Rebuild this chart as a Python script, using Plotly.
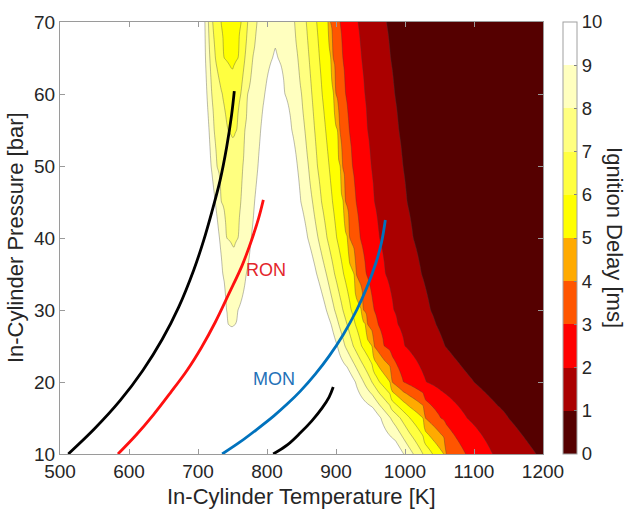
import numpy as np
import plotly.graph_objects as go

# ---------------- contour data ----------------
# For each pressure row [bar]: temperatures [K] and ignition delay [ms] values
P_rows = [10, 15, 20, 25, 28, 30, 35, 40, 45, 50, 55, 60, 65, 70]

T_10 = [500, 880, 986, 998, 1012, 1026, 1040, 1056, 1059, 1088, 1127, 1190, 1200]
D_10 = [12, 11, 9.9, 9, 8, 7, 6, 5, 4, 3, 2, 1, 0.85]

T_15 = [500, 850, 953, 965, 979, 993, 1007, 1026, 1029, 1052, 1090, 1150, 1185, 1200]
D_15 = [12, 11, 9.9, 9, 8, 7, 6, 5, 4, 3, 2, 1, 0.5, 0.45]

T_20 = [500, 820, 916, 928, 940, 952, 963, 978, 981, 998, 1031, 1100, 1135, 1200]
D_20 = [12, 11, 9.9, 9, 8, 7, 6, 5, 4, 3, 2, 1, 0.5, 0.35]

T_25 = [500, 800, 890, 902, 913, 925, 937, 952, 955, 970, 1000, 1058, 1093, 1200]
D_25 = [12, 11, 9.9, 9, 8, 7, 6, 5, 4, 3, 2, 1, 0.5, 0.3]

T_28 = [500, 739, 744, 749, 754, 830, 881, 893, 904, 916, 928, 943, 946, 961, 990, 1045, 1080, 1200]
D_28 = [12, 9.6, 9, 8.7, 9, 10.5, 9.9, 9, 8, 7, 6, 5, 4, 3, 2, 1, 0.5, 0.3]

T_30 = [500, 736, 741, 751, 758, 830, 874, 886, 898, 910, 922, 937, 940, 955, 984, 1037, 1072, 1200]
D_30 = [12, 9.6, 9, 8.55, 9, 10.5, 9.9, 9, 8, 7, 6, 5, 4, 3, 2, 1, 0.5, 0.3]

T_35 = [500, 731, 736, 751, 770, 820, 860, 872, 886, 898, 911, 926, 929, 944, 972, 1024, 1059, 1200]
D_35 = [12, 9.6, 9, 8.25, 9, 10.5, 9.9, 9, 8, 7, 6, 5, 4, 3, 2, 1, 0.5, 0.3]

T_40 = [500, 726, 731, 741, 752, 758, 777, 820, 847, 859, 874, 887, 901, 917, 920, 935, 963, 1012, 1047, 1200]
D_40 = [12, 9.6, 9, 8, 7.9, 8, 9, 10.5, 9.9, 9, 8, 7, 6, 5, 4, 3, 2, 1, 0.5, 0.3]

T_45 = [500, 720, 725, 734, 752, 762, 782, 815, 837, 849, 866, 879, 895, 911, 914, 929, 956, 1003, 1038, 1200]
D_45 = [12, 9.6, 9, 8, 7.6, 8, 9, 10.5, 9.9, 9, 8, 7, 6, 5, 4, 3, 2, 1, 0.5, 0.3]

T_50 = [500, 714, 719, 727, 751, 765, 787, 815, 832, 844, 860, 873, 890, 906, 909, 924, 951, 997, 1032, 1200]
D_50 = [12, 9.6, 9, 8, 7.3, 8, 9, 10.5, 9.9, 9, 8, 7, 6, 5, 4, 3, 2, 1, 0.5, 0.3]

T_55 = [500, 711, 716, 723, 743, 751, 756, 768, 791, 815, 826, 836, 855, 869, 885, 902, 905, 919, 946, 991, 1026, 1200]
D_55 = [12, 9.6, 9, 8, 7, 6.9, 7, 8, 9, 10.5, 9.9, 9, 8, 7, 6, 5, 4, 3, 2, 1, 0.5, 0.3]

T_60 = [500, 708, 713, 720, 735, 750, 762, 772, 797, 812, 820, 826, 850, 865, 880, 897, 900, 914, 942, 985, 1020, 1200]
D_60 = [12, 9.6, 9, 8, 7, 6.4, 7, 8, 9, 10, 9.6, 9, 8, 7, 6, 5, 4, 3, 2, 1, 0.5, 0.3]

T_65 = [500, 706, 711, 717, 725, 738, 749, 758, 768, 779, 808, 812, 816, 845, 861, 876, 893, 896, 910, 937, 979, 1014, 1200]
D_65 = [12, 9.6, 9, 8, 7, 6, 5.8, 6, 7, 8, 9, 9.15, 9, 8, 7, 6, 5, 4, 3, 2, 1, 0.5, 0.3]

T_70 = [500, 705, 710, 715, 721, 733, 748, 763, 772, 785, 812, 840, 857, 872, 889, 892, 906, 932, 973, 1008, 1200]
D_70 = [12, 9.6, 9, 8, 7, 6, 5.5, 6, 7, 8, 8.6, 8, 7, 6, 5, 4, 3, 2, 1, 0.5, 0.3]

T_rows = [T_10, T_15, T_20, T_25, T_28, T_30, T_35, T_40, T_45, T_50, T_55, T_60, T_65, T_70]
D_rows = [D_10, D_15, D_20, D_25, D_28, D_30, D_35, D_40, D_45, D_50, D_55, D_60, D_65, D_70]

# ---------------- compression trajectories ----------------
black1_T = [512, 550, 587, 620, 648, 672, 694, 708, 720, 732, 741.5, 748.7, 752.6]
black1_P = [10, 13.5, 17.4, 21.6, 25.9, 30.4, 35.6, 39.6, 43.6, 48, 52.6, 57.1, 60.4]

red_T = [584, 610, 635, 660, 684, 705, 725, 745, 764, 778, 788, 794.7]
red_P = [10, 12.6, 15.4, 18.5, 21.6, 24.8, 28.3, 32.3, 36.2, 39.8, 42.8, 45.3]

blue_T = [735, 760, 785, 810, 830, 848, 870, 890, 910, 930, 945, 958, 966, 971.5]
blue_P = [10, 11.6, 13.4, 15.3, 17.0, 18.7, 21.1, 23.6, 26.5, 30.0, 33.2, 36.6, 39.4, 42.5]

black2_T = [809, 830, 848, 865, 880, 890, 896]
black2_P = [10, 11.3, 12.9, 14.6, 16.4, 17.9, 19.3]

band_colors = ['#550000', '#aa0000', '#ff0000', '#ff5500', '#ffaa00',
               '#ffff00', '#ffff40', '#ffff80', '#ffffbf', '#ffffff']
cb_ticks = list(range(0, 11))

# ---------------- build grid ----------------
T_grid = np.arange(500, 1201, 2)
Z = np.array([np.interp(T_grid, t, d) for t, d in zip(T_rows, D_rows)])

fill_scale = [[i / 9, c] for i, c in enumerate(band_colors)]
step_scale = []
for i, c in enumerate(band_colors):
    step_scale.append([i / 10, c])
    step_scale.append([(i + 1) / 10, c])

FONT = "Liberation Sans, Arial, Helvetica, sans-serif"
TXT = '#262626'

fig = go.Figure()
fig.add_trace(go.Contour(
    x=T_grid, y=P_rows, z=Z, autocontour=False,
    contours=dict(start=1, end=9, size=1, coloring='fill', showlines=False),
    colorscale=fill_scale, showscale=False, line=dict(width=0, smoothing=0.8),
    hoverinfo='skip'))
fig.add_trace(go.Contour(
    x=T_grid, y=P_rows, z=Z, autocontour=False,
    contours=dict(start=1, end=9, size=1, coloring='none'),
    line=dict(color='rgba(60,60,60,0.5)', width=0.7, smoothing=0.8),
    showscale=False, hoverinfo='skip'))

line_w = 2.8
fig.add_trace(go.Scatter(x=black1_T, y=black1_P, mode='lines',
                         line=dict(color='black', width=line_w, shape='spline'), showlegend=False))
fig.add_trace(go.Scatter(x=red_T, y=red_P, mode='lines',
                         line=dict(color='#ff1010', width=line_w, shape='spline'), showlegend=False))
fig.add_trace(go.Scatter(x=blue_T, y=blue_P, mode='lines',
                         line=dict(color='#0072bd', width=line_w, shape='spline'), showlegend=False))
fig.add_trace(go.Scatter(x=black2_T, y=black2_P, mode='lines',
                         line=dict(color='black', width=line_w, shape='spline'), showlegend=False))

# colorbar carrier
fig.add_trace(go.Scatter(
    x=[500, 500], y=[10, 10], mode='markers', hoverinfo='skip', showlegend=False,
    marker=dict(size=1, opacity=0, color=[0, 10], cmin=0, cmax=10, colorscale=step_scale,
                showscale=True,
                colorbar=dict(x=1.0414, xanchor='left', xpad=0, y=0.5, yanchor='middle',
                              len=1, lenmode='fraction', ypad=0, thickness=14,
                              outlinewidth=1, outlinecolor='#a0a0a0', borderwidth=0,
                              tickmode='array', tickvals=cb_ticks, ticks='inside',
                              ticklen=3, tickcolor='#808080',
                              tickfont=dict(family=FONT, size=18.5, color=TXT)))))

axis_common = dict(showgrid=False, zeroline=False, showline=True, linecolor='#9a9a9a',
                   linewidth=1, mirror='ticks', ticks='inside', ticklen=5,
                   tickcolor='#9a9a9a', tickfont=dict(family=FONT, size=19, color=TXT))
fig.update_xaxes(range=[500, 1200], tickvals=[500, 600, 700, 800, 900, 1000, 1100, 1200],
                 **axis_common)
fig.update_yaxes(range=[10, 70], tickvals=[10, 20, 30, 40, 50, 60, 70], **axis_common)

fig.update_layout(
    width=630, height=512, margin=dict(l=60, r=87, t=16, b=58),
    paper_bgcolor='white', plot_bgcolor='white', showlegend=False,
    font=dict(family=FONT, color=TXT),
    annotations=[
        dict(text='In-Cylinder Temperature [K]', xref='paper', yref='paper', x=0.5, y=-0.098,
             xanchor='center', yanchor='middle', showarrow=False,
             font=dict(family=FONT, size=22, color=TXT)),
        dict(text='In-Cylinder Pressure [bar]', xref='paper', yref='paper', x=-0.093, y=0.5,
             xanchor='center', yanchor='middle', textangle=-90, showarrow=False,
             font=dict(family=FONT, size=22, color=TXT)),
        dict(text='Ignition Delay [ms]', xref='paper', yref='paper', x=1.149, y=0.5,
             xanchor='center', yanchor='middle', textangle=90, showarrow=False,
             font=dict(family=FONT, size=22, color=TXT)),
        dict(text='RON', x=798, y=35.5, xref='x', yref='y', showarrow=False,
             font=dict(family=FONT, size=18, color='#e3262b')),
        dict(text='MON', x=810, y=20.4, xref='x', yref='y', showarrow=False,
             font=dict(family=FONT, size=18, color='#1f72b8')),
    ])

fig.write_html("out.html")
